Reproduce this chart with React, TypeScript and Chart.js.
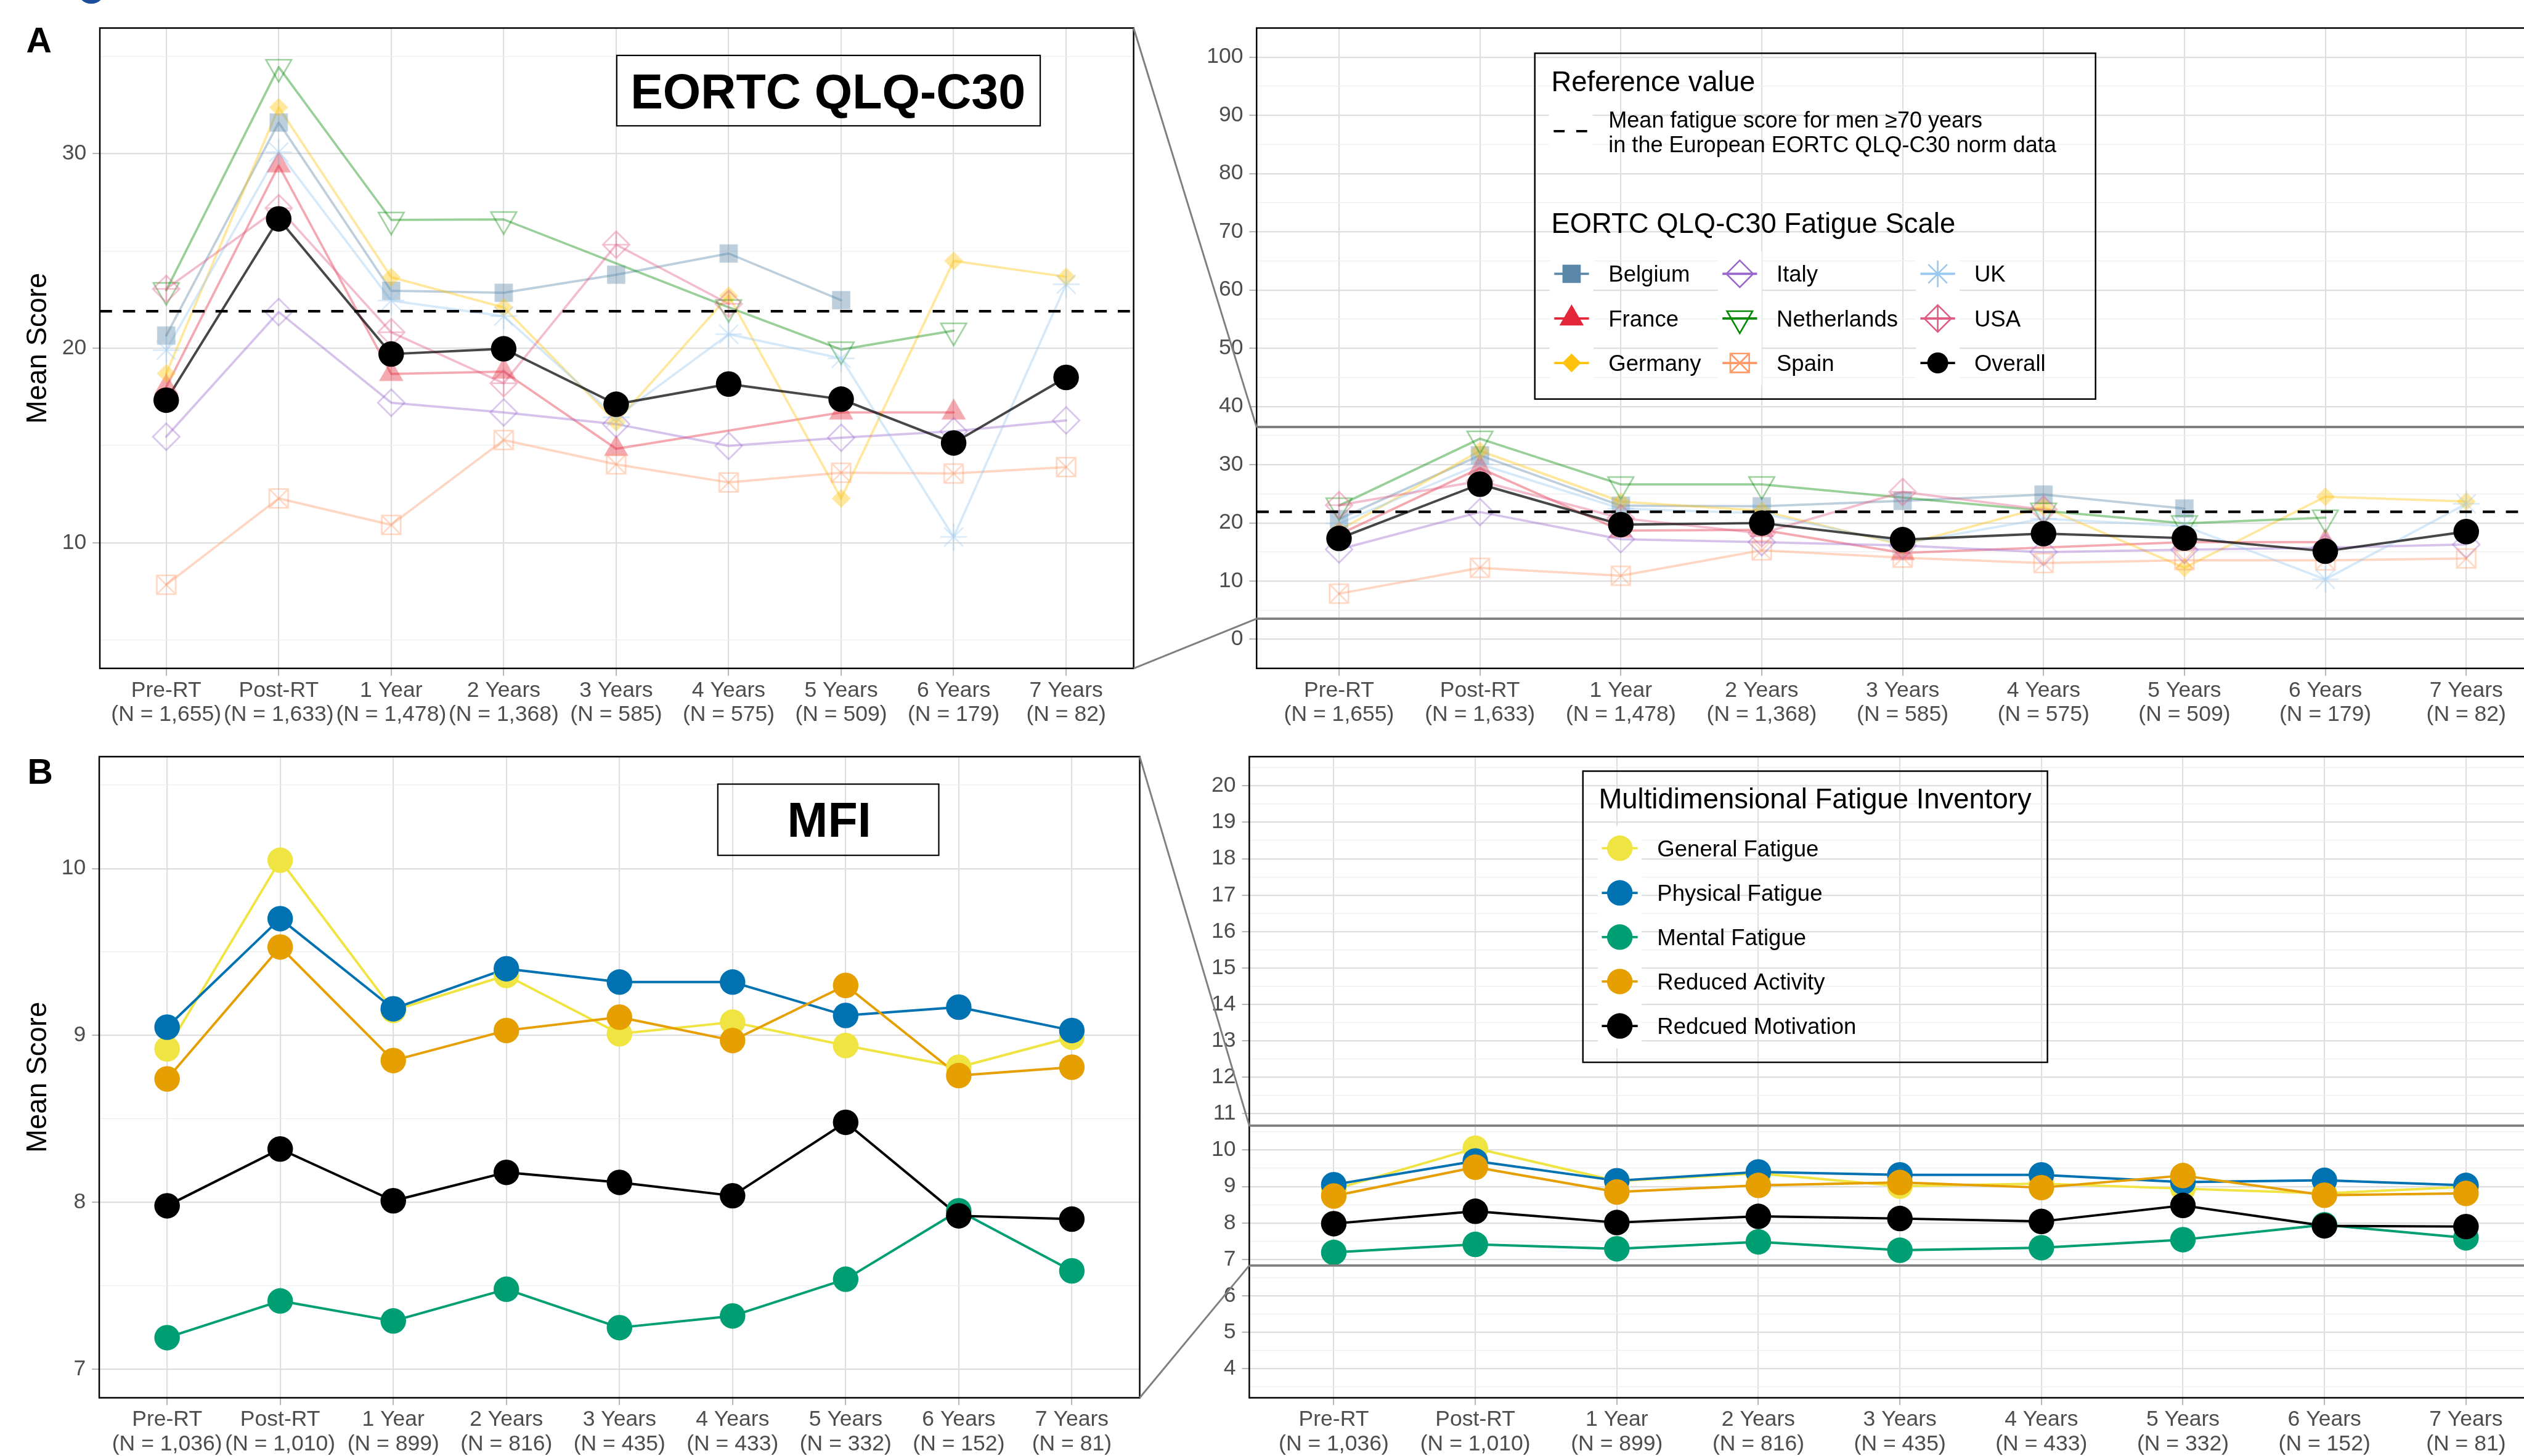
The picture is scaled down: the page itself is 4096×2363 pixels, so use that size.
import React, { useEffect, useRef } from 'react';
import { Chart, registerables } from 'chart.js';

Chart.register(...registerables);

const S = 0.988;
const W = 4096;
const H = 2363;
const FONT = '"Liberation Sans", Arial, Helvetica, sans-serif';
const s = (v: number) => v * S;

// ---------------- data ----------------
const TIME_POINTS = ['Pre-RT', 'Post-RT', '1 Year', '2 Years', '3 Years', '4 Years', '5 Years', '6 Years', '7 Years'];
const N_EORTC = ['1,655', '1,633', '1,478', '1,368', '585', '575', '509', '179', '82'];
const N_MFI = ['1,036', '1,010', '899', '816', '435', '433', '332', '152', '81'];

const BELGIUM = [20.65, 31.6, 22.95, 22.85, 23.78, 24.87, 22.47, null, null];
const FRANCE = [18.0, 29.4, 18.68, 18.8, 14.83, null, 16.7, 16.7, null];
const GERMANY = [18.7, 32.38, 23.65, 22.1, 16.2, 22.7, 12.28, 24.49, 23.67];
const ITALY = [15.45, 21.86, 17.2, 16.7, 16.1, 14.98, 15.4, 15.73, 16.29];
const NETHERLANDS = [22.98, 34.45, 26.6, 26.62, null, 22.1, 19.93, 20.9, null];
const SPAIN = [7.84, 12.28, 10.92, 15.28, 14.03, 13.1, 13.6, 13.56, 13.89];
const UK = [19.9, 30.08, 22.45, 21.65, 16.45, 20.72, 19.48, 10.3, 23.29];
const USA = [23.05, 27.2, 20.82, 18.2, 25.32, 22.28, null, null, null];
const OVERALL = [17.33, 26.65, 19.7, 19.97, 17.12, 18.16, 17.38, 15.13, 18.5];
const REFERENCE_VALUE = 21.9;

const GENERAL_FATIGUE = [8.92, 10.05, 9.15, 9.36, 9.01, 9.08, 8.94, 8.81, 8.99];
const PHYSICAL_FATIGUE = [9.05, 9.7, 9.16, 9.4, 9.32, 9.32, 9.12, 9.17, 9.03];
const MENTAL_FATIGUE = [7.19, 7.41, 7.29, 7.48, 7.25, 7.32, 7.54, 7.95, 7.59];
const REDUCED_ACTIVITY = [8.74, 9.53, 8.85, 9.03, 9.11, 8.97, 9.3, 8.76, 8.81];
const REDUCED_MOTIVATION = [7.98, 8.32, 8.01, 8.18, 8.12, 8.04, 8.48, 7.92, 7.9];

// axis ranges / ticks
const EORTC_ZOOM_RANGE: [number, number] = [3.54, 36.46];
const EORTC_ZOOM_MAJOR = [10, 20, 30];
const EORTC_ZOOM_MINOR = [5, 15, 25, 35];
const EORTC_FULL_RANGE: [number, number] = [-5, 105];
const EORTC_FULL_MAJOR = [0, 10, 20, 30, 40, 50, 60, 70, 80, 90, 100];
const EORTC_FULL_MINOR = [5, 15, 25, 35, 45, 55, 65, 75, 85, 95];
const MFI_ZOOM_RANGE: [number, number] = [6.83, 10.67];
const MFI_ZOOM_MAJOR = [7, 8, 9, 10];
const MFI_ZOOM_MINOR = [7.5, 8.5, 9.5, 10.5];
const MFI_FULL_RANGE: [number, number] = [3.2, 20.8];
const MFI_FULL_MAJOR = [4, 5, 6, 7, 8, 9, 10, 11, 12, 13, 14, 15, 16, 17, 18, 19, 20];
const MFI_FULL_MINOR = [3.5, 4.5, 5.5, 6.5, 7.5, 8.5, 9.5, 10.5, 11.5, 12.5, 13.5, 14.5, 15.5, 16.5, 17.5, 18.5, 19.5, 20.5];

// texts
const Y_TITLE = 'Mean Score';
const EORTC_TITLE = 'EORTC QLQ-C30';
const MFI_TITLE = 'MFI';
const REF_LEGEND_TITLE = 'Reference value';
const REF_LEGEND_LINE1 = 'Mean fatigue score for men \u226570 years';
const REF_LEGEND_LINE2 = 'in the European EORTC QLQ-C30 norm data';
const EORTC_LEGEND_TITLE = 'EORTC QLQ-C30 Fatigue Scale';
const MFI_LEGEND_TITLE = 'Multidimensional Fatigue Inventory';

const COUNTRY_SERIES = [
  { label: 'Belgium', data: BELGIUM, color: '#5B87A8', shape: 'square' },
  { label: 'France', data: FRANCE, color: '#E3263A', shape: 'triangleUp' },
  { label: 'Germany', data: GERMANY, color: '#FFC20A', shape: 'diamond' },
  { label: 'Italy', data: ITALY, color: '#9966CC', shape: 'diamondOpen' },
  { label: 'Netherlands', data: NETHERLANDS, color: '#008800', shape: 'triangleDownOpen' },
  { label: 'Spain', data: SPAIN, color: '#FF9966', shape: 'squareCross' },
  { label: 'UK', data: UK, color: '#99C7F0', shape: 'asterisk' },
  { label: 'USA', data: USA, color: '#DE5C82', shape: 'diamondPlus' },
];
const OVERALL_SERIES = { label: 'Overall', data: OVERALL, color: '#000000', shape: 'circle' };
const COUNTRY_ALPHA = 0.4;

const MFI_SERIES = [
  { label: 'General Fatigue', data: GENERAL_FATIGUE, color: '#F0E442' },
  { label: 'Physical Fatigue', data: PHYSICAL_FATIGUE, color: '#0072B2' },
  { label: 'Mental Fatigue', data: MENTAL_FATIGUE, color: '#009E73' },
  { label: 'Reduced Activity', data: REDUCED_ACTIVITY, color: '#E69F00' },
  { label: 'Redcued Motivation', data: REDUCED_MOTIVATION, color: '#000000' },
];

// ---------------- layout (reference px) ----------------
const BOX_A_LEFT = { l: 164, t: 46, r: 1862, b: 1098 };
const BOX_A_RIGHT = { l: 2064, t: 46, b: 1098 };
const BOX_B_LEFT = { l: 163, t: 1243, r: 1872, b: 2296 };
const BOX_B_RIGHT = { l: 2052, t: 1243, b: 2296 };

function rgba(hex: string, a: number) {
  const n = parseInt(hex.slice(1), 16);
  return `rgba(${(n >> 16) & 255},${(n >> 8) & 255},${n & 255},${a})`;
}

function drawMarker(ctx: CanvasRenderingContext2D, shape: string, x: number, y: number, color: string, sizeMul = 1) {
  ctx.save();
  ctx.translate(x, y);
  ctx.fillStyle = color;
  ctx.strokeStyle = color;
  ctx.lineWidth = s(2.6);
  ctx.lineJoin = 'miter';
  ctx.beginPath();
  const k = sizeMul;
  switch (shape) {
    case 'circle': {
      ctx.arc(0, 0, s(21) * k, 0, Math.PI * 2);
      ctx.fill();
      break;
    }
    case 'square': {
      const h = s(15) * k;
      ctx.rect(-h, -h, 2 * h, 2 * h);
      ctx.fill();
      break;
    }
    case 'triangleUp': {
      const hw = s(20) * k;
      const r = hw / Math.sin(Math.PI / 3);
      ctx.moveTo(0, -r);
      ctx.lineTo(hw, r / 2);
      ctx.lineTo(-hw, r / 2);
      ctx.closePath();
      ctx.fill();
      break;
    }
    case 'diamond': {
      const d = s(15.5) * k;
      ctx.moveTo(0, -d);
      ctx.lineTo(d, 0);
      ctx.lineTo(0, d);
      ctx.lineTo(-d, 0);
      ctx.closePath();
      ctx.fill();
      break;
    }
    case 'diamondOpen': {
      const d = s(22) * k;
      ctx.moveTo(0, -d);
      ctx.lineTo(d, 0);
      ctx.lineTo(0, d);
      ctx.lineTo(-d, 0);
      ctx.closePath();
      ctx.stroke();
      break;
    }
    case 'triangleDownOpen': {
      const hw = s(21) * k;
      const r = hw / Math.sin(Math.PI / 3);
      ctx.moveTo(0, r);
      ctx.lineTo(hw, -r / 2);
      ctx.lineTo(-hw, -r / 2);
      ctx.closePath();
      ctx.stroke();
      break;
    }
    case 'squareCross': {
      const h = s(15.5) * k;
      ctx.rect(-h, -h, 2 * h, 2 * h);
      ctx.moveTo(-h, -h);
      ctx.lineTo(h, h);
      ctx.moveTo(h, -h);
      ctx.lineTo(-h, h);
      ctx.stroke();
      break;
    }
    case 'asterisk': {
      const p = s(22) * k;
      const q = s(15.5) * k;
      ctx.moveTo(-p, 0);
      ctx.lineTo(p, 0);
      ctx.moveTo(0, -p);
      ctx.lineTo(0, p);
      ctx.moveTo(-q, -q);
      ctx.lineTo(q, q);
      ctx.moveTo(q, -q);
      ctx.lineTo(-q, q);
      ctx.stroke();
      break;
    }
    case 'diamondPlus': {
      const d = s(22) * k;
      ctx.moveTo(0, -d);
      ctx.lineTo(d, 0);
      ctx.lineTo(0, d);
      ctx.lineTo(-d, 0);
      ctx.closePath();
      ctx.moveTo(0, -d);
      ctx.lineTo(0, d);
      ctx.moveTo(-d, 0);
      ctx.lineTo(d, 0);
      ctx.stroke();
      break;
    }
  }
  ctx.restore();
}

function markerCanvas(shape: string, color: string) {
  const c = document.createElement('canvas');
  c.width = 64;
  c.height = 64;
  const ctx = c.getContext('2d') as CanvasRenderingContext2D;
  drawMarker(ctx, shape, 32, 32, color);
  return c;
}

const toXY = (vals: (number | null)[]) => vals.map((v, i) => ({ x: i, y: v }));

function eortcDatasets() {
  const seq: any[] = [];
  COUNTRY_SERIES.forEach((c) =>
    seq.push({
      label: c.label + ' line',
      data: toXY(c.data),
      borderColor: rgba(c.color, COUNTRY_ALPHA),
      borderWidth: s(3.8),
      pointRadius: 0,
      spanGaps: true,
      fill: false,
      tension: 0,
      borderCapStyle: 'round',
      borderJoinStyle: 'round',
    })
  );
  seq.push({
    label: 'Overall line',
    data: toXY(OVERALL_SERIES.data),
    borderColor: 'rgba(0,0,0,0.72)',
    borderWidth: s(4),
    pointRadius: 0,
    spanGaps: true,
    fill: false,
    tension: 0,
    borderCapStyle: 'round',
    borderJoinStyle: 'round',
  });
  COUNTRY_SERIES.forEach((c) =>
    seq.push({
      label: c.label,
      data: toXY(c.data),
      showLine: false,
      pointStyle: markerCanvas(c.shape, rgba(c.color, COUNTRY_ALPHA)),
      pointRadius: s(20),
      pointHoverRadius: s(20),
    })
  );
  seq.push({
    label: OVERALL_SERIES.label,
    data: toXY(OVERALL_SERIES.data),
    showLine: false,
    pointStyle: 'circle',
    pointRadius: s(21),
    pointHoverRadius: s(21),
    backgroundColor: '#000',
    borderColor: '#000',
    borderWidth: 0,
  });
  return seq.map((d, k) => ({ ...d, order: seq.length - k }));
}

function mfiDatasets() {
  const seq: any[] = [];
  MFI_SERIES.forEach((m) =>
    seq.push({
      label: m.label + ' line',
      data: toXY(m.data),
      borderColor: m.color,
      borderWidth: s(4),
      pointRadius: 0,
      fill: false,
      tension: 0,
      borderJoinStyle: 'round',
    })
  );
  MFI_SERIES.forEach((m) =>
    seq.push({
      label: m.label,
      data: toXY(m.data),
      showLine: false,
      pointStyle: 'circle',
      pointRadius: s(21),
      pointHoverRadius: s(21),
      backgroundColor: m.color,
      borderColor: m.color,
      borderWidth: 0,
    })
  );
  return seq.map((d, k) => ({ ...d, order: seq.length - k }));
}

// ---------------- plugins ----------------
function framePlugin(closed: boolean) {
  return {
    id: 'frame',
    afterDatasetsDraw(chart: any) {
      const { ctx, chartArea: a } = chart;
      ctx.save();
      ctx.strokeStyle = '#000';
      ctx.lineWidth = s(2.5);
      ctx.beginPath();
      if (closed) {
        ctx.rect(a.left, a.top, a.right - a.left, a.bottom - a.top);
      } else {
        ctx.moveTo(a.right + 20, a.top);
        ctx.lineTo(a.left, a.top);
        ctx.lineTo(a.left, a.bottom);
        ctx.lineTo(a.right + 20, a.bottom);
      }
      ctx.stroke();
      ctx.restore();
    },
  };
}

const refLinePlugin = {
  id: 'refLine',
  afterDatasetsDraw(chart: any) {
    const { ctx, chartArea: a, scales } = chart;
    const py = scales.y.getPixelForValue(REFERENCE_VALUE);
    ctx.save();
    ctx.beginPath();
    ctx.rect(a.left, a.top, a.right - a.left, a.bottom - a.top);
    ctx.clip();
    ctx.setLineDash([s(20), s(18)]);
    ctx.lineWidth = s(4.5);
    ctx.strokeStyle = '#000';
    ctx.beginPath();
    ctx.moveTo(a.left, py);
    ctx.lineTo(a.right, py);
    ctx.stroke();
    ctx.restore();
  },
};

function zoomPlugin(range: [number, number], leftBox: { t: number; r: number; b: number }) {
  return {
    id: 'zoomIndicator',
    afterDraw(chart: any) {
      const { ctx, chartArea: a, scales } = chart;
      const yTop = scales.y.getPixelForValue(range[1]);
      const yBot = scales.y.getPixelForValue(range[0]);
      ctx.save();
      ctx.strokeStyle = '#7F7F7F';
      ctx.lineWidth = s(4);
      ctx.beginPath();
      ctx.moveTo(a.left, yTop);
      ctx.lineTo(a.right, yTop);
      ctx.moveTo(a.left, yBot);
      ctx.lineTo(a.right, yBot);
      ctx.stroke();
      ctx.lineWidth = s(3);
      ctx.beginPath();
      ctx.moveTo(s(leftBox.r), s(leftBox.t));
      ctx.lineTo(a.left, yTop);
      ctx.moveTo(s(leftBox.r), s(leftBox.b));
      ctx.lineTo(a.left, yBot);
      ctx.stroke();
      ctx.restore();
    },
  };
}

function titleBoxPlugin(text: string, box: { x0: number; y0: number; x1: number; y1: number }, cx: number, baseline: number, letter: string, lx: number, ly: number) {
  return {
    id: 'titleBox',
    afterDraw(chart: any) {
      const { ctx } = chart;
      ctx.save();
      ctx.strokeStyle = '#000';
      ctx.lineWidth = s(2.2);
      ctx.strokeRect(s(box.x0), s(box.y0), s(box.x1 - box.x0), s(box.y1 - box.y0));
      ctx.fillStyle = '#000';
      ctx.textBaseline = 'alphabetic';
      ctx.textAlign = 'center';
      ctx.font = `bold ${s(80)}px ${FONT}`;
      ctx.fillText(text, s(cx), s(baseline));
      ctx.textAlign = 'left';
      ctx.font = `bold ${s(58)}px ${FONT}`;
      ctx.fillText(letter, s(lx), s(ly));
      ctx.restore();
    },
  };
}

const eortcLegendPlugin = {
  id: 'eortcLegend',
  afterDraw(chart: any) {
    const { ctx } = chart;
    const KEY_X = [2581.4, 2857.6, 3182.8];
    const TEXT_X = [2642, 2918, 3242.8];
    const ROW_Y = [449.8, 523.2, 596.2];
    const items = [...COUNTRY_SERIES, OVERALL_SERIES];
    ctx.save();
    ctx.fillStyle = '#fff';
    ctx.fillRect(s(2544), s(180), s(72), s(72));
    items.forEach((it, i) => {
      const col = Math.floor(i / 3);
      const row = i % 3;
      ctx.fillRect(s(KEY_X[col] - 36), s(ROW_Y[row] - 36.5), s(72), s(73));
    });
    ctx.strokeStyle = '#000';
    ctx.lineWidth = s(2.5);
    ctx.strokeRect(s(2521), s(87.5), s(921), s(568));
    ctx.fillStyle = '#000';
    ctx.textAlign = 'left';
    ctx.textBaseline = 'alphabetic';
    ctx.font = `${s(46)}px ${FONT}`;
    ctx.fillText(REF_LEGEND_TITLE, s(2548), s(149.6));
    ctx.fillText(EORTC_LEGEND_TITLE, s(2548), s(383));
    ctx.font = `${s(36.5)}px ${FONT}`;
    ctx.fillText(REF_LEGEND_LINE1, s(2642), s(210));
    ctx.fillText(REF_LEGEND_LINE2, s(2642), s(249.5));
    ctx.strokeStyle = '#000';
    ctx.lineWidth = s(3.8);
    ctx.setLineDash([s(18), s(19)]);
    ctx.beginPath();
    ctx.moveTo(s(2552), s(215.5));
    ctx.lineTo(s(2608), s(215.5));
    ctx.stroke();
    ctx.setLineDash([]);
    ctx.font = `${s(37)}px ${FONT}`;
    items.forEach((it, i) => {
      const col = Math.floor(i / 3);
      const row = i % 3;
      const cx = s(KEY_X[col]);
      const cy = s(ROW_Y[row]);
      ctx.strokeStyle = it.color;
      ctx.lineWidth = s(3.8);
      ctx.beginPath();
      ctx.moveTo(cx - s(28.5), cy);
      ctx.lineTo(cx + s(28.5), cy);
      ctx.stroke();
      drawMarker(ctx, it.shape, cx, cy, it.color, it.shape === 'circle' ? 0.82 : 1);
      ctx.fillStyle = '#000';
      ctx.fillText(it.label, s(TEXT_X[col]), s(ROW_Y[row] + 13.2));
    });
    ctx.restore();
  },
};

const mfiLegendPlugin = {
  id: 'mfiLegend',
  afterDraw(chart: any) {
    const { ctx } = chart;
    const ROW_Y = [1393.3, 1466.7, 1539.3, 1612.3, 1685.3];
    const KEY_X = 2660.6;
    ctx.save();
    ctx.fillStyle = '#fff';
    ROW_Y.forEach((y) => ctx.fillRect(s(KEY_X - 36), s(y - 36.5), s(72), s(73)));
    ctx.strokeStyle = '#000';
    ctx.lineWidth = s(2.5);
    ctx.strokeRect(s(2600), s(1266.7), s(763), s(478.3));
    ctx.fillStyle = '#000';
    ctx.textAlign = 'left';
    ctx.textBaseline = 'alphabetic';
    ctx.font = `${s(46)}px ${FONT}`;
    ctx.fillText(MFI_LEGEND_TITLE, s(2626), s(1328.3));
    ctx.font = `${s(37)}px ${FONT}`;
    MFI_SERIES.forEach((m, i) => {
      const cy = s(ROW_Y[i]);
      ctx.strokeStyle = m.color;
      ctx.lineWidth = s(3.8);
      ctx.beginPath();
      ctx.moveTo(s(2631), cy);
      ctx.lineTo(s(2690), cy);
      ctx.stroke();
      drawMarker(ctx, 'circle', s(KEY_X), cy, m.color);
      ctx.fillStyle = '#000';
      ctx.fillText(m.label, s(2722), s(ROW_Y[i] + 13.2));
    });
    ctx.restore();
  },
};

// ---------------- chart factory ----------------
type PanelCfg = {
  box: { l: number; t: number; r?: number; b: number };
  xRange: [number, number];
  yRange: [number, number];
  yMajor: number[];
  yMinor: number[];
  nLabels: string[];
  yTitle: boolean;
  datasets: any[];
  plugins: any[];
};

function makeChart(canvas: HTMLCanvasElement, p: PanelCfg) {
  const isRight = p.box.r === undefined;
  const yAxisW = isRight ? s(150) : s(p.box.l);
  const padLeft = s(p.box.l) - yAxisW;
  const xAxisH = s(100);
  const padBottom = H - s(p.box.b) - xAxisH;
  const padRight = isRight ? 0 : W - s(p.box.r as number);
  const majorSet = new Set(p.yMajor);
  const yTicks = [...p.yMajor, ...p.yMinor].sort((a, b) => a - b);
  const tickFont = { family: FONT, size: s(36), lineHeight: 1.111 };
  return new Chart(canvas, {
    type: 'line',
    data: { datasets: p.datasets },
    options: {
      responsive: false,
      animation: false,
      devicePixelRatio: 1,
      events: [],
      layout: { padding: { left: padLeft, right: padRight, top: s(p.box.t), bottom: padBottom }, autoPadding: false },
      plugins: { legend: { display: false }, tooltip: { enabled: false }, title: { display: false } },
      scales: {
        x: {
          type: 'linear',
          min: p.xRange[0],
          max: p.xRange[1],
          afterBuildTicks: (sc: any) => {
            sc.ticks = TIME_POINTS.map((_, i) => ({ value: i }));
          },
          afterFit: (sc: any) => {
            sc.height = xAxisH;
          },
          ticks: {
            autoSkip: false,
            maxRotation: 0,
            minRotation: 0,
            padding: s(4.5),
            color: '#4D4D4D',
            font: tickFont,
            callback: (v: any) => {
              const i = Math.round(Number(v));
              return [TIME_POINTS[i], `(N = ${p.nLabels[i]})`];
            },
          },
          grid: {
            color: '#DEDEDE',
            lineWidth: s(2.2),
            tickLength: s(12),
            tickColor: '#B3B3B3',
            tickWidth: s(2),
          },
          border: { display: false },
        },
        y: {
          type: 'linear',
          min: p.yRange[0],
          max: p.yRange[1],
          afterBuildTicks: (sc: any) => {
            sc.ticks = yTicks.map((v) => ({ value: v }));
          },
          afterFit: (sc: any) => {
            sc.width = yAxisW;
          },
          ticks: {
            autoSkip: false,
            padding: s(10),
            color: '#4D4D4D',
            font: tickFont,
            callback: (v: any) => (majorSet.has(Number(v)) ? String(v) : ''),
          },
          grid: {
            color: (c: any) => (c.tick && majorSet.has(c.tick.value) ? '#DEDEDE' : '#EEEEEE'),
            lineWidth: (c: any) => (c.tick && majorSet.has(c.tick.value) ? s(2.2) : s(1.3)),
            tickColor: (c: any) => (c.tick && majorSet.has(c.tick.value) ? '#B3B3B3' : 'rgba(0,0,0,0)'),
            tickLength: s(12),
            tickWidth: s(2),
          },
          border: { display: false },
          title: {
            display: p.yTitle,
            text: Y_TITLE,
            color: '#000',
            font: { family: FONT, size: s(46), lineHeight: 1.2 },
            padding: { top: s(36), bottom: 0 },
          },
        },
      },
    } as any,
    plugins: p.plugins,
  } as any);
}

export default function App() {
  const c1 = useRef<HTMLCanvasElement>(null);
  const c2 = useRef<HTMLCanvasElement>(null);
  const c3 = useRef<HTMLCanvasElement>(null);
  const c4 = useRef<HTMLCanvasElement>(null);

  useEffect(() => {
    Chart.defaults.font.family = FONT;
    const charts = [
      makeChart(c1.current as HTMLCanvasElement, {
        box: BOX_A_LEFT,
        xRange: [-0.59, 8.6],
        yRange: EORTC_ZOOM_RANGE,
        yMajor: EORTC_ZOOM_MAJOR,
        yMinor: EORTC_ZOOM_MINOR,
        nLabels: N_EORTC,
        yTitle: true,
        datasets: eortcDatasets(),
        plugins: [refLinePlugin, framePlugin(true), titleBoxPlugin(EORTC_TITLE, { x0: 1013, y0: 91, x1: 1708.6, y1: 206.7 }, 1360, 178.6, 'A', 43, 86)],
      }),
      makeChart(c2.current as HTMLCanvasElement, {
        box: BOX_A_RIGHT,
        xRange: [-0.585, 8.41],
        yRange: EORTC_FULL_RANGE,
        yMajor: EORTC_FULL_MAJOR,
        yMinor: EORTC_FULL_MINOR,
        nLabels: N_EORTC,
        yTitle: false,
        datasets: eortcDatasets(),
        plugins: [refLinePlugin, framePlugin(false), zoomPlugin(EORTC_ZOOM_RANGE, BOX_A_LEFT), eortcLegendPlugin],
      }),
      makeChart(c3.current as HTMLCanvasElement, {
        box: BOX_B_LEFT,
        xRange: [-0.6, 8.6],
        yRange: MFI_ZOOM_RANGE,
        yMajor: MFI_ZOOM_MAJOR,
        yMinor: MFI_ZOOM_MINOR,
        nLabels: N_MFI,
        yTitle: true,
        datasets: mfiDatasets(),
        plugins: [framePlugin(true), titleBoxPlugin(MFI_TITLE, { x0: 1179, y0: 1288, x1: 1542, y1: 1405 }, 1362, 1374.7, 'B', 45, 1287)],
      }),
      makeChart(c4.current as HTMLCanvasElement, {
        box: BOX_B_RIGHT,
        xRange: [-0.597, 8.41],
        yRange: MFI_FULL_RANGE,
        yMajor: MFI_FULL_MAJOR,
        yMinor: MFI_FULL_MINOR,
        nLabels: N_MFI,
        yTitle: false,
        datasets: mfiDatasets(),
        plugins: [framePlugin(false), zoomPlugin(MFI_ZOOM_RANGE, BOX_B_LEFT), mfiLegendPlugin],
      }),
    ];
    return () => charts.forEach((c) => c.destroy());
  }, []);

  const cs: React.CSSProperties = { position: 'absolute', left: 0, top: 0, width: W, height: H };
  return (
    <div style={{ position: 'fixed', left: 0, top: 0, width: W, height: H, background: '#fff', overflow: 'hidden' }}>
      <div style={{ position: 'absolute', left: s(128), top: s(-36), width: s(44), height: s(42), borderRadius: '50%', background: '#1B4F9B' }} />
      <canvas ref={c1} width={W} height={H} style={cs} />
      <canvas ref={c2} width={W} height={H} style={cs} />
      <canvas ref={c3} width={W} height={H} style={cs} />
      <canvas ref={c4} width={W} height={H} style={cs} />
    </div>
  );
}
